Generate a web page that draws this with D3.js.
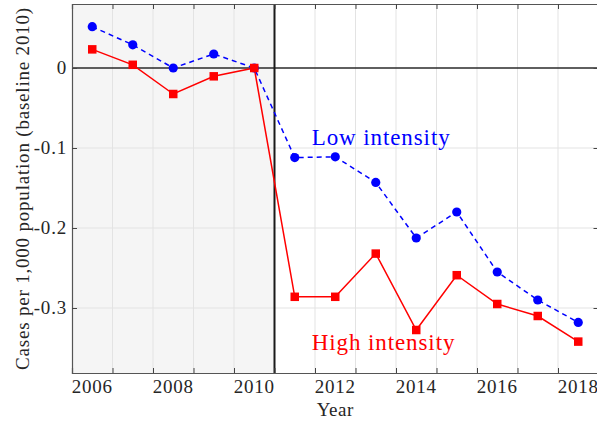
<!DOCTYPE html>
<html>
<head>
<meta charset="utf-8">
<script src="https://cdn.jsdelivr.net/npm/d3@7"></script>
<style>
  html, body { margin: 0; padding: 0; background: #fff; }
  svg { display: block; }
  text { font-family: "Liberation Serif", "Times New Roman", serif; }
</style>
</head>
<body>
<div id="chart"></div>
<script>
// --- data ---
const years = [2006, 2007, 2008, 2009, 2010, 2011, 2012, 2013, 2014, 2015, 2016, 2017, 2018];
const lowIntensity = [0.0516, 0.029, 0.0, 0.0175, 0.0, -0.112, -0.111, -0.143, -0.2125, -0.18, -0.255, -0.29, -0.318];
const highIntensity = [0.0233, 0.004, -0.0325, -0.0104, 0.0, -0.286, -0.286, -0.232, -0.3275, -0.259, -0.295, -0.31, -0.342];
const yearLabels = [2006, 2008, 2010, 2012, 2014, 2016, 2018];
const yTicks = [0, -0.1, -0.2, -0.3];
const baselineBreak = 2010.5;

// plot sizes
const W = 597, H = 424;
const margin = { top: 4, left: 72 };
const innerW = 526.5, innerH = 369;

const svg = d3.select("#chart").append("svg")
  .attr("width", W)
  .attr("height", H);

const x = d3.scaleLinear().domain([2005.5, 2018.5]).range([margin.left, margin.left + innerW]);
const y = d3.scaleLinear().domain([-0.38125, 0.08]).range([margin.top + innerH, margin.top]);

const x0 = x.range()[0], x1 = x.range()[1];
const y0 = y.range()[1], y1 = y.range()[0];

// pre-2010 shading
svg.append("rect")
  .attr("x", x0).attr("y", y0)
  .attr("width", x(baselineBreak) - x0)
  .attr("height", y1 - y0)
  .attr("fill", "#f5f5f5");

// --- grid ---
const xGrid = d3.range(2006.5, 2018.5, 1);
svg.append("g").selectAll("line")
  .data(xGrid)
  .join("line")
  .attr("x1", d => x(d)).attr("x2", d => x(d))
  .attr("y1", y0).attr("y2", y1)
  .attr("stroke", "#e3e3e3").attr("stroke-width", 1);

svg.append("g").selectAll("line")
  .data(yTicks.filter(d => d !== 0))
  .join("line")
  .attr("x1", x0).attr("x2", x1)
  .attr("y1", d => y(d)).attr("y2", d => y(d))
  .attr("stroke", "#e3e3e3").attr("stroke-width", 1);

// zero line and 2010 break
svg.append("line")
  .attr("x1", x0).attr("x2", x1)
  .attr("y1", y(0)).attr("y2", y(0))
  .attr("stroke", "#2a2a2a").attr("stroke-width", 1.3);

svg.append("line")
  .attr("x1", x(baselineBreak)).attr("x2", x(baselineBreak))
  .attr("y1", y0).attr("y2", y1)
  .attr("stroke", "#1a1a1a").attr("stroke-width", 2);

// --- axes (box with inner ticks) ---
const tickLen = 5;
const bottomAxis = d3.axisBottom(x).tickValues(xGrid).tickSize(-tickLen).tickFormat("");
const topAxis = d3.axisTop(x).tickValues(xGrid).tickSize(-tickLen).tickFormat("");
const leftAxis = d3.axisLeft(y).tickValues(yTicks).tickSize(-tickLen).tickFormat("");
const rightAxis = d3.axisRight(y).tickValues(yTicks).tickSize(-tickLen).tickFormat("");

function styleAxis(g) {
  g.selectAll("path").attr("stroke", "#555").attr("stroke-width", 1.2);
  g.selectAll("line").attr("stroke", "#444").attr("stroke-width", 1);
}
svg.append("g").attr("transform", `translate(0,${y1})`).call(bottomAxis).call(styleAxis);
svg.append("g").attr("transform", `translate(0,${y0})`).call(topAxis).call(styleAxis);
svg.append("g").attr("transform", `translate(${x0},0)`).call(leftAxis).call(styleAxis);
svg.append("g").attr("transform", `translate(${x1},0)`).call(rightAxis).call(styleAxis);

// tick labels
svg.append("g").selectAll("text")
  .data(yearLabels)
  .join("text")
  .attr("x", d => x(d))
  .attr("y", y1 + 20)
  .attr("text-anchor", "middle")
  .style("font-size", "19px")
  .style("letter-spacing", "0.8px")
  .attr("fill", "#262626")
  .text(d => d);

svg.append("g").selectAll("text")
  .data(yTicks)
  .join("text")
  .attr("x", x0 - 5)
  .attr("y", d => y(d) + 6)
  .attr("text-anchor", "end")
  .style("font-size", "19px")
  .style("letter-spacing", "0.8px")
  .attr("fill", "#262626")
  .text(d => d === 0 ? "0" : "-" + Math.abs(d).toFixed(1));

// axis titles
svg.append("text")
  .attr("x", x(2012))
  .attr("y", 416)
  .attr("text-anchor", "middle")
  .style("font-size", "19px")
  .style("letter-spacing", "0.5px")
  .attr("fill", "#262626")
  .text("Year");

svg.append("text")
  .attr("transform", `translate(29,${(y0 + y1) / 2}) rotate(-90)`)
  .attr("text-anchor", "middle")
  .style("font-size", "19px")
  .style("letter-spacing", "0.8px")
  .attr("fill", "#262626")
  .text("Cases per 1,000 population (baseline 2010)");

// --- series ---
const lowData = years.map((yr, i) => ({ year: yr, value: lowIntensity[i] }));
const highData = years.map((yr, i) => ({ year: yr, value: highIntensity[i] }));

const line = d3.line().x(d => x(d.year)).y(d => y(d.value));

svg.append("path")
  .datum(lowData)
  .attr("d", line)
  .attr("fill", "none")
  .attr("stroke", "#0000ff")
  .attr("stroke-width", 1.5)
  .attr("stroke-dasharray", "5,4");

svg.append("path")
  .datum(highData)
  .attr("d", line)
  .attr("fill", "none")
  .attr("stroke", "#ff0000")
  .attr("stroke-width", 1.5);

svg.append("g").selectAll("circle")
  .data(lowData)
  .join("circle")
  .attr("cx", d => x(d.year))
  .attr("cy", d => y(d.value))
  .attr("r", 4.6)
  .attr("fill", "#0000ff");

const sq = 8.5;
svg.append("g").selectAll("rect")
  .data(highData)
  .join("rect")
  .attr("x", d => x(d.year) - sq / 2)
  .attr("y", d => y(d.value) - sq / 2)
  .attr("width", sq).attr("height", sq)
  .attr("fill", "#ff0000");

// --- annotations ---
svg.append("text")
  .attr("x", x(2011.42))
  .attr("y", y(-0.0963))
  .style("font-size", "23px")
  .style("letter-spacing", "0.9px")
  .attr("fill", "#0000ff")
  .text("Low intensity");

svg.append("text")
  .attr("x", x(2011.42))
  .attr("y", y(-0.3525))
  .style("font-size", "23px")
  .style("letter-spacing", "0.9px")
  .attr("fill", "#ff0000")
  .text("High intensity");
</script>
</body>
</html>
